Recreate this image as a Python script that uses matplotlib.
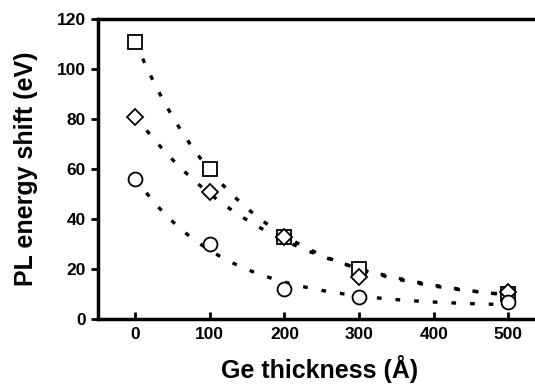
import numpy as np
import matplotlib
matplotlib.use("Agg")
import matplotlib.pyplot as plt

plt.rcParams['font.family'] = ['Liberation Sans', 'DejaVu Sans']
plt.rcParams['font.weight'] = 'bold'

# Data
thickness = [0, 100, 200, 300, 500]
shift_square = [111, 60, 33, 20, 10]
shift_diamond = [81, 51, 33, 17, 11]
shift_circle = [56, 30, 12, 9, 7]


def exp_fit(x, y):
    """Fit y = a*exp(-x/tau) + c, tau by grid search, a and c by least squares."""
    x = np.asarray(x, float)
    y = np.asarray(y, float)
    best = None
    for tau in np.linspace(20, 600, 1200):
        A = np.column_stack([np.exp(-x / tau), np.ones_like(x)])
        coef, *_ = np.linalg.lstsq(A, y, rcond=None)
        r = np.sum((A @ coef - y) ** 2)
        if best is None or r < best[0]:
            best = (r, tau, coef)
    _, tau, (a, c) = best
    return lambda t: a * np.exp(-t / tau) + c


fig = plt.figure(figsize=(5.35, 3.85), dpi=100)
ax = fig.add_axes([0.183, 0.171, 0.83, 0.779])

xs = np.linspace(0, 500, 300)
for y, marker, ms in [(shift_square, 's', 10), (shift_diamond, 'D', 8.5), (shift_circle, 'o', 10)]:
    f = exp_fit(thickness, y)
    ax.plot(xs, f(xs), color='black', lw=2.4, linestyle=(0, (1.4, 4.2)), zorder=1)
    ax.plot(thickness, y, linestyle='none', marker=marker, ms=ms, mfc='white',
            mec='black', mew=1.3, zorder=2)

ax.set_xlim(-50, 545)
ax.set_ylim(0, 120)
ax.set_xticks([0, 100, 200, 300, 400, 500])
ax.set_yticks([0, 20, 40, 60, 80, 100, 120])
ax.tick_params(axis='x', direction='in', length=5, width=2, labelsize=12.5, pad=6)
ax.tick_params(axis='y', direction='out', length=5, width=2, labelsize=12.5)
for s in ['left', 'bottom', 'top']:
    ax.spines[s].set_linewidth(2.5)
ax.spines['right'].set_visible(False)

ax.set_xlabel('Ge thickness (Å)', fontsize=18, fontweight='bold', labelpad=9)
ax.set_ylabel('PL energy shift (eV)', fontsize=18, fontweight='bold', labelpad=14)

fig.savefig('out.png', dpi=100)
